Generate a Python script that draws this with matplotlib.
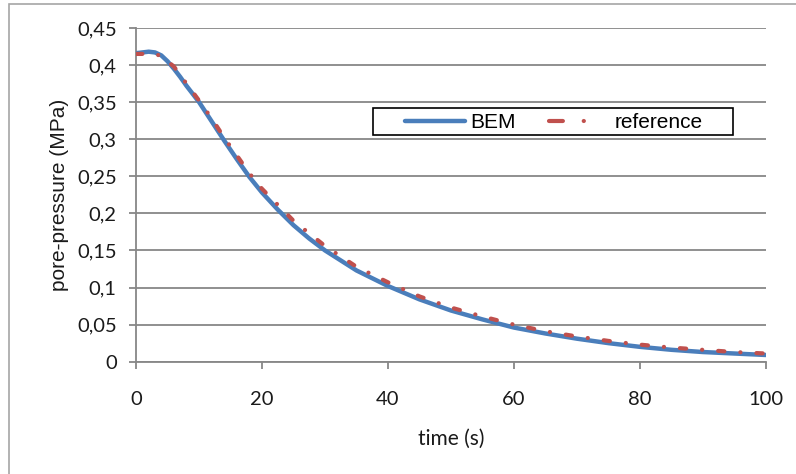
import matplotlib.pyplot as plt
from matplotlib.lines import Line2D
from matplotlib.ticker import FuncFormatter

plt.rcParams['font.family'] = ['Lato', 'DejaVu Sans']
plt.rcParams['lines.scale_dashes'] = False

# data
t_bem = [0, 1, 2, 3, 4, 5, 6, 7, 8, 9, 10, 12, 14, 16, 18, 20, 22.5, 25,
         27.5, 30, 35, 40, 45, 50, 55, 60, 65, 70, 75, 80, 85, 90, 95, 100]
p_bem = [0.416, 0.417, 0.418, 0.417, 0.413, 0.405, 0.395, 0.384, 0.372,
         0.361, 0.350, 0.324, 0.298, 0.273, 0.249, 0.228, 0.205, 0.184,
         0.166, 0.150, 0.123, 0.102, 0.084, 0.069, 0.057, 0.046, 0.038,
         0.031, 0.025, 0.020, 0.016, 0.013, 0.011, 0.009]

t_ref = [0, 2, 3, 4, 6, 8, 10, 12, 14, 16, 18, 20, 25, 30, 35, 40, 45, 50,
         55, 60, 65, 70, 75, 80, 85, 90, 95, 100]
p_ref = [0.415, 0.415, 0.415, 0.412, 0.398, 0.375, 0.352, 0.328, 0.302,
         0.278, 0.254, 0.233, 0.190, 0.156, 0.128, 0.107, 0.088, 0.073,
         0.061, 0.050, 0.041, 0.034, 0.028, 0.023, 0.019, 0.016, 0.013, 0.011]

x_ticks = [0, 20, 40, 60, 80, 100]
y_ticks = [0, 0.05, 0.1, 0.15, 0.2, 0.25, 0.3, 0.35, 0.4, 0.45]

blue = '#4a7ebb'
red = '#c0504d'
ref_dash = (4.5, 11.5, 0.1, 11.5)

fig = plt.figure(figsize=(7.96, 4.74), dpi=100)
ax = fig.add_axes([0.171, 0.237, 0.791, 0.704])

# outer chart frame
fig.patches.append(plt.Rectangle((9 / 796, -0.01), 1.0, 1 - 4 / 474 + 0.01,
                                 transform=fig.transFigure, fill=False,
                                 edgecolor='#a6a6a6', linewidth=1.2))

ax.plot(t_bem, p_bem, color=blue, linewidth=3.2, solid_capstyle='round',
        solid_joinstyle='round', zorder=3)
ax.plot(t_ref, p_ref, color=red, linewidth=3.0, dash_capstyle='round',
        dashes=ref_dash, zorder=4)

ax.set_xlim(0, 100)
ax.set_ylim(0, 0.45)
ax.set_xticks(x_ticks)
ax.set_yticks(y_ticks)
ax.yaxis.set_major_formatter(FuncFormatter(
    lambda v, pos: ('%g' % round(v, 2)).replace('.', ',')))

ax.grid(axis='y', color='#878787', linewidth=1.3)
ax.set_axisbelow(True)
for s in ['top', 'right']:
    ax.spines[s].set_visible(False)
for s in ['left', 'bottom']:
    ax.spines[s].set_color('#878787')
    ax.spines[s].set_linewidth(1.3)
ax.tick_params(axis='both', colors='#878787', length=5, width=1.3,
               labelcolor='#1a1a1a', labelsize=14.5)
ax.tick_params(axis='x', pad=16)
ax.tick_params(axis='y', pad=9)

ax.set_xlabel('time (s)', fontsize=15, color='#1a1a1a', labelpad=15)
ax.set_ylabel('pore-pressure (MPa)', fontsize=15, color='#1a1a1a',
              labelpad=6, family='Liberation Sans')

# legend box drawn separately, legend entries without frame
ax.add_patch(plt.Rectangle((0.3763, 0.6794), 0.5718, 0.0809,
                           transform=ax.transAxes, facecolor='white',
                           edgecolor='black', linewidth=1.2, zorder=5))
h_bem = Line2D([], [], color=blue, linewidth=3.2, solid_capstyle='round')
h_ref = Line2D([], [], color=red, linewidth=3.0, dash_capstyle='round',
               dashes=(10, 15, 0.1, 40))
leg = ax.legend([h_bem, h_ref], ['BEM', 'reference'], ncol=2,
                loc='center left', bbox_to_anchor=(0.4271, 0.7168),
                frameon=False, prop={'family': 'Liberation Sans', 'size': 15},
                handlelength=2.9, borderpad=0, handletextpad=0.25,
                columnspacing=1.6, borderaxespad=0)
leg.set_zorder(6)

fig.savefig('out.png', dpi=100)
